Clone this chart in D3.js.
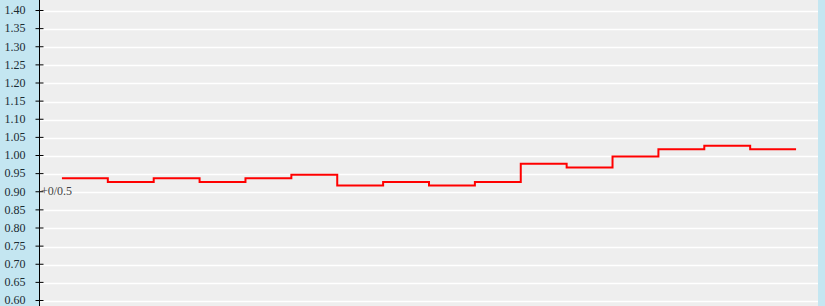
<!DOCTYPE html>
<html lang="en">
<head>
  <meta charset="UTF-8">
  <title>Step chart</title>
  <style>
    body { margin: 0; background: #c4e6f1; }
    svg { display: block; }
  </style>
</head>
<body>
<svg width="825" height="306"></svg>

<script src="https://cdn.jsdelivr.net/npm/d3@7"></script>
<script>
  // values per period
  var periods = d3.range(16);
  var values = [0.94, 0.93, 0.94, 0.93, 0.94, 0.95, 0.92, 0.93, 0.92, 0.93, 0.98, 0.97, 1.00, 1.02, 1.03, 1.02];
  var yTicks = d3.range(0.60, 1.4001, 0.05);
  var labelText = '+0/0.5';

  var svg = d3.select('svg');
  var plot = {left: 39, right: 819, top: 0, bottom: 306};

  var xScale = d3.scaleLinear().domain([-0.5, 16.5]).range([plot.left, plot.right]);
  var yScale = d3.scaleLinear().domain([0.60, 1.40]).range([300, 10]);

  // plot background
  svg.append('rect')
    .attr('x', plot.left).attr('y', plot.top)
    .attr('width', plot.right - plot.left - 1).attr('height', plot.bottom - plot.top)
    .attr('fill', '#eeeeee');

  // grid lines (sit a little below the tick marks)
  var gridOffset = 1.5;
  svg.append('g').selectAll('line').data(yTicks).enter().append('line')
    .attr('x1', plot.left).attr('x2', plot.right - 1)
    .attr('y1', function (d) { return Math.round(yScale(d)) + gridOffset; })
    .attr('y2', function (d) { return Math.round(yScale(d)) + gridOffset; })
    .attr('stroke', '#ffffff').attr('stroke-width', 1.5);

  // y axis
  var yAxis = d3.axisLeft(yScale).tickValues(yTicks).tickSize(4)
    .tickFormat(d3.format('.2f'));
  var ga = svg.append('g').attr('transform', 'translate(' + (plot.left + 0.5) + ',0)').call(yAxis);
  ga.select('.domain').remove();
  ga.append('line').attr('x1', 0).attr('x2', 0).attr('y1', 0).attr('y2', 306).attr('stroke', '#000');
  ga.selectAll('.tick line').attr('x1', 4).attr('x2', -4).attr('stroke', '#000');
  ga.selectAll('.tick text')
    .attr('x', -14)
    .attr('fill', '#1b2b33')
    .style('font-family', '"Liberation Serif", serif')
    .style('font-size', '12px');

  // step line, aligned with the grid lines
  var pts = values.map(function (v, i) { return [i, v]; });
  pts.push([values.length, values[values.length - 1]]);
  var line = d3.line()
    .x(function (d) { return xScale(d[0]); })
    .y(function (d) { return yScale(d[1]); })
    .curve(d3.curveStepAfter);
  svg.append('path').datum(pts)
    .attr('transform', 'translate(0,' + gridOffset + ')')
    .attr('d', line)
    .attr('fill', 'none')
    .attr('stroke', '#ff0000')
    .attr('stroke-width', 2);

  // label
  svg.append('text')
    .attr('x', plot.left + 2).attr('y', 195)
    .attr('fill', '#444')
    .style('font-family', '"Liberation Serif", serif')
    .style('font-size', '12px')
    .text(labelText);
</script>
</body>
</html>
